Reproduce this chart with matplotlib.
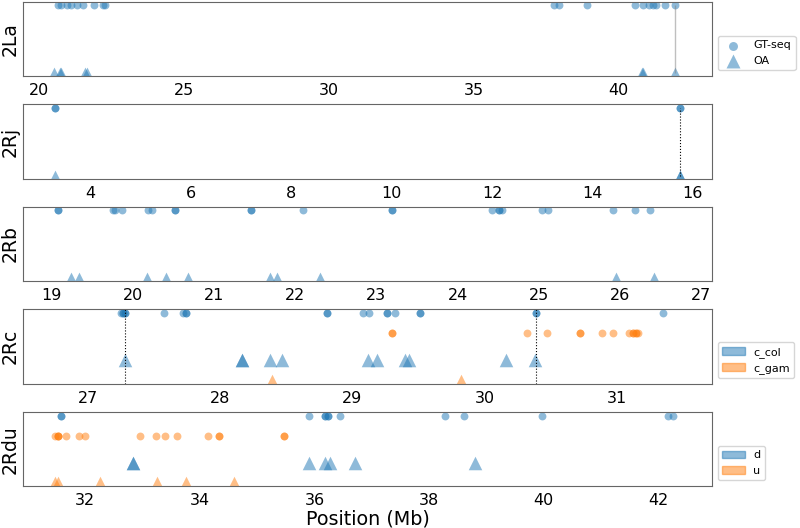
import matplotlib
matplotlib.use("Agg")
import matplotlib.pyplot as plt
from matplotlib.patches import Patch

BLUE = "#1f77b4"
ORANGE = "#ff7f0e"

# 2La
la_gt = [20.66, 20.74, 20.95, 21.10, 21.31, 21.52, 21.90, 22.19, 22.27,
         37.79, 37.96, 38.91, 40.59, 40.84, 41.07, 41.19, 41.30, 41.61, 41.96]
la_oa = [20.51, 20.72, 20.77, 21.58, 21.64, 40.81, 40.86, 41.96]
la_line = 41.96

# 2Rj (repeated values = overlapping points)
rj_gt = [3.29, 3.29, 15.75, 15.75]
rj_oa = [3.29, 15.75, 15.75]
rj_line = 15.75

# 2Rb
rb_gt = [19.08, 19.08, 19.75, 19.78, 19.86, 20.18, 20.23, 20.52, 20.52,
         21.45, 21.45, 22.09, 23.19, 23.19, 24.42, 24.51, 24.51, 24.55,
         25.04, 25.12, 25.91, 26.19, 26.37]
rb_oa = [19.24, 19.34, 20.17, 20.41, 20.68, 21.69, 21.78, 22.31, 25.95, 26.42]

# 2Rc
rc_gt_col = [27.25, 27.27, 27.27, 27.28, 27.28, 27.58, 27.72, 27.74, 27.74,
             28.81, 28.81, 29.08, 29.13, 29.26, 29.26, 29.32, 29.51, 29.51,
             30.385, 30.385, 31.35]
rc_gt_gam = [29.30, 29.30, 30.32, 30.47, 30.72, 30.72, 30.89, 30.97, 31.09,
             31.12, 31.12, 31.14, 31.14, 31.16]
rc_oa_col = [27.28, 28.17, 28.17, 28.38, 28.47, 29.12, 29.19, 29.40, 29.43,
             30.16, 30.38]
rc_oa_gam = [28.39, 29.82]
rc_lines = [27.28, 30.385]

# 2Rdu
rdu_gt_d = [31.58, 31.58, 35.91, 36.19, 36.19, 36.23, 36.23, 36.44,
            38.27, 38.61, 39.97, 42.17, 42.25]
rdu_gt_u = [31.48, 31.52, 31.52, 31.53, 31.67, 31.90, 31.99, 32.95, 33.23,
            33.40, 33.61, 34.15, 34.33, 34.33, 35.47, 35.47]
rdu_oa_d = [32.83, 32.83, 35.91, 36.19, 36.27, 36.71, 38.80]
rdu_oa_u = [31.48, 31.53, 32.26, 33.26, 33.76, 34.59]

names = ["2La", "2Rj", "2Rb", "2Rc", "2Rdu"]
xlims = [(19.43, 43.25), (2.65, 16.39), (18.64, 27.14), (26.51, 31.72), (30.91, 42.94)]
# panel top / bottom in pixels
tops = [1.7, 104.3, 206.7, 309.3, 412.3]
bots = [76.0, 179.0, 281.0, 384.0, 486.0]

fig = plt.figure(figsize=(8, 5.28), dpi=100)
axes = []
for t, b in zip(tops, bots):
    ax = fig.add_axes([22.7 / 800, 1 - b / 528, (712.3 - 22.7) / 800, (b - t) / 528])
    axes.append(ax)

DOT = 32
TRI = 72
TRI2 = 95
A = 0.5

def pt(ax, x, y, c, m, s):
    ax.scatter(x, [y] * len(x), c=c, marker=m, s=s, alpha=A, linewidths=0)

ax = axes[0]
ax.vlines(la_line, 0, 1, color="gray", alpha=0.5, lw=1)
pt(ax, la_gt, 1, BLUE, "o", DOT)
pt(ax, la_oa, 0, BLUE, "^", TRI)
h1 = ax.scatter([], [], c=BLUE, marker="o", s=DOT * 1.3, alpha=A, linewidths=0, label="GT-seq")
h2 = ax.scatter([], [], c=BLUE, marker="^", s=TRI * 1.4, alpha=A, linewidths=0, label="OA")
ax.legend(handles=[h1, h2], loc="lower left", bbox_to_anchor=(1, 0), fontsize=8, scatterpoints=1)

ax = axes[1]
ax.vlines(rj_line, 0, 1, color="k", linestyle=":", lw=0.8)
pt(ax, rj_gt, 1, BLUE, "o", DOT)
pt(ax, rj_oa, 0, BLUE, "^", TRI)

ax = axes[2]
pt(ax, rb_gt, 1, BLUE, "o", DOT)
pt(ax, rb_oa, 0, BLUE, "^", TRI)

ax = axes[3]
for v in rc_lines:
    ax.axvline(v, color="k", linestyle=":", lw=0.8)
pt(ax, rc_gt_col, 1, BLUE, "o", DOT)
pt(ax, rc_gt_gam, 0.7, ORANGE, "o", DOT)
pt(ax, rc_oa_col, 0.3, BLUE, "^", TRI2)
pt(ax, rc_oa_gam, 0, ORANGE, "^", TRI2)
ax.legend(handles=[Patch(color=BLUE, alpha=A, label="c_col"),
                   Patch(color=ORANGE, alpha=A, label="c_gam")],
          loc="lower left", bbox_to_anchor=(1, 0), fontsize=8)

ax = axes[4]
pt(ax, rdu_gt_d, 1, BLUE, "o", DOT)
pt(ax, rdu_gt_u, 0.7, ORANGE, "o", DOT)
pt(ax, rdu_oa_d, 0.3, BLUE, "^", TRI2)
pt(ax, rdu_oa_u, 0, ORANGE, "^", TRI2)
ax.legend(handles=[Patch(color=BLUE, alpha=A, label="d"),
                   Patch(color=ORANGE, alpha=A, label="u")],
          loc="lower left", bbox_to_anchor=(1, 0), fontsize=8)
ax.set_xlabel("Position (Mb)", fontsize=13.8, labelpad=1)

for ax, name, xl in zip(axes, names, xlims):
    ax.set_xlim(xl)
    ax.set_ylim(-0.05, 1.05)
    ax.set_yticks([])
    ax.set_ylabel(name, fontsize=13.5, labelpad=2)
    ax.tick_params(axis="x", length=0, pad=5, labelsize=11.5)
    for sp in ax.spines.values():
        sp.set_color("0.4")

fig.savefig("out.png", dpi=100)
